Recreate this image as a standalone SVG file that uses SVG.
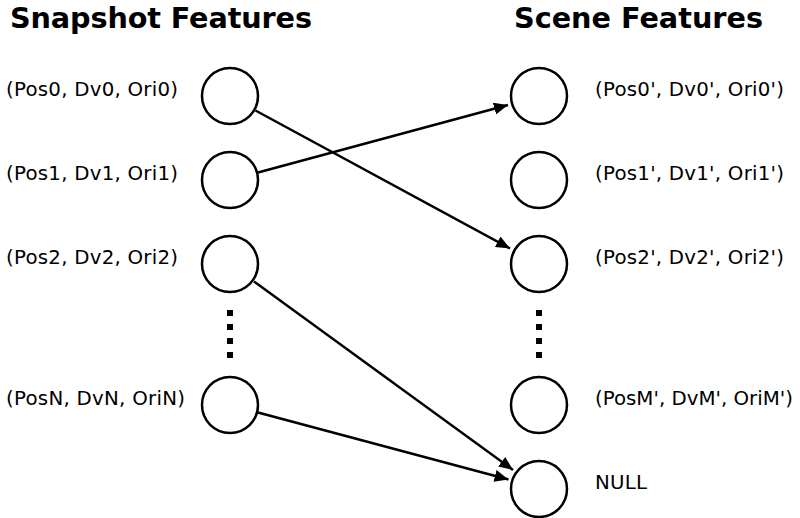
<svg xmlns="http://www.w3.org/2000/svg" width="800" height="518" viewBox="0 0 800 518">
<defs>
<marker id="arr" markerWidth="14" markerHeight="12" refX="14" refY="6" orient="auto" markerUnits="userSpaceOnUse">
<path d="M0,0 L14,6 L0,12 Z" fill="#000"/>
</marker>
<style>
.t{font-family:"DejaVu Sans",sans-serif;font-weight:bold;font-size:28.7px;fill:#000}
.l{font-family:"DejaVu Sans",sans-serif;font-size:19.8px;fill:#000}
.n{fill:#fff;stroke:#000;stroke-width:2.5}
.c{stroke:#000;stroke-width:2.5;fill:none}
.d{stroke:#000;stroke-width:6;stroke-dasharray:6 8}
</style>
</defs>
<rect width="800" height="518" fill="#fff"/>
<text class="t" x="10" y="28" textLength="302">Snapshot Features</text>
<text class="t" x="514" y="28" textLength="249">Scene Features</text>
<g id="s0"><circle class="n" cx="230" cy="96" r="28"/><text class="l" x="6" y="96" textLength="172">(Pos0, Dv0, Ori0)</text></g>
<g id="s1"><circle class="n" cx="230" cy="180" r="28"/><text class="l" x="6" y="180" textLength="172">(Pos1, Dv1, Ori1)</text></g>
<g id="s2"><circle class="n" cx="230" cy="264" r="28"/><text class="l" x="6" y="264" textLength="172">(Pos2, Dv2, Ori2)</text></g>
<g id="sdots"><line class="d" x1="230" y1="310" x2="230" y2="358"/></g>
<g id="sN"><circle class="n" cx="230" cy="405" r="28"/><text class="l" x="6" y="405" textLength="179">(PosN, DvN, OriN)</text></g>
<g id="c0"><circle class="n" cx="539" cy="96" r="28"/><text class="l" x="595" y="96" textLength="189">(Pos0', Dv0', Ori0')</text></g>
<g id="c1"><circle class="n" cx="539" cy="180" r="28"/><text class="l" x="595" y="180" textLength="189">(Pos1', Dv1', Ori1')</text></g>
<g id="c2"><circle class="n" cx="539" cy="264" r="28"/><text class="l" x="595" y="264" textLength="189">(Pos2', Dv2', Ori2')</text></g>
<g id="cdots"><line class="d" x1="539" y1="310" x2="539" y2="358"/></g>
<g id="cM"><circle class="n" cx="539" cy="405" r="28"/><text class="l" x="595" y="405" textLength="198">(PosM', DvM', OriM')</text></g>
<g id="cNULL"><circle class="n" cx="539" cy="489" r="28"/><text class="l" x="595" y="489" textLength="52">NULL</text></g>
<g id="connectors">
<line class="c" x1="255.5" y1="110.5" x2="510" y2="248.5" marker-end="url(#arr)"/>
<line class="c" x1="258" y1="172.5" x2="508" y2="105" marker-end="url(#arr)"/>
<line class="c" x1="254" y1="281.5" x2="513" y2="470" marker-end="url(#arr)"/>
<line class="c" x1="258" y1="412.5" x2="508.5" y2="479.5" marker-end="url(#arr)"/>
</g>
</svg>
